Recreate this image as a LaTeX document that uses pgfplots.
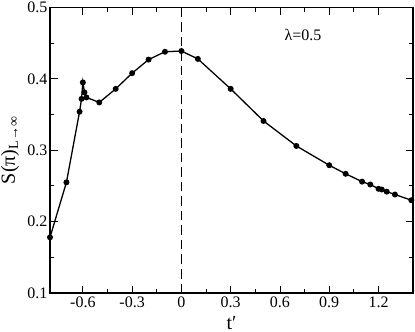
\documentclass[border=0pt]{standalone}
\usepackage{fontspec}
\setmainfont{Liberation Serif}
\usepackage{pgfplots}
\pgfplotsset{compat=1.18}

\begin{document}
\begin{tikzpicture}[x=1pt,y=1pt]
\path[use as bounding box] (-50,-39) rectangle (365,293);
\begin{axis}[
    at={(0,0)}, anchor=south west,
    scale only axis,
    width=363pt, height=285.5pt,
    xmin=-0.8, xmax=1.41,
    ymin=0.1, ymax=0.5,
    xtick={-0.6,-0.3,0,0.3,0.6,0.9,1.2},
    xticklabels={-0.6,-0.3,0,0.3,0.6,0.9,1.2},
    ytick={0.1,0.2,0.3,0.4,0.5},
    yticklabels={0.1,0.2,0.3,0.4,0.5},
    minor x tick num=1,
    minor y tick num=1,
    tick align=inside,
    major tick length=7.5pt,
    minor tick length=4.5pt,
    tick style={line width=0.9pt, black},
    axis line style={line width=1.1pt},
    tick label style={font=\fontsize{16}{18}\selectfont},
    xticklabel style={yshift=0pt},
    yticklabel style={xshift=1pt},
    xlabel={t′},
    ylabel={S(π)\textsubscript{L→∞}},
    xlabel style={at={(axis description cs:0.5,0)}, anchor=base, yshift=-36pt},
    ylabel style={at={([xshift=-35pt]axis description cs:0,0.5)}, anchor=base},
    every axis label/.append style={font=\fontsize{20}{22}\selectfont},
]
\addplot[black, line width=1.3pt, mark=*, mark size=2.3pt] coordinates {
    (-0.80,0.178) (-0.70,0.255) (-0.62,0.354) (-0.608,0.372) (-0.600,0.395)
    (-0.590,0.381) (-0.578,0.374) (-0.50,0.367) (-0.40,0.386) (-0.30,0.408)
    (-0.20,0.427) (-0.10,0.438) (0.0,0.439) (0.10,0.428) (0.30,0.386)
    (0.50,0.341) (0.70,0.306) (0.90,0.279) (1.00,0.267) (1.10,0.256)
    (1.15,0.252) (1.20,0.246) (1.22,0.245) (1.25,0.242) (1.30,0.238)
    (1.40,0.230)
};
\addplot[black, line width=1.6pt, dash pattern=on 9.5pt off 5pt] coordinates {(0,0.1) (0,0.5)};
\node[font=\fontsize{16}{18}\selectfont] at (axis cs:0.74,0.462) {λ=0.5};
\end{axis}
\end{tikzpicture}
\end{document}
